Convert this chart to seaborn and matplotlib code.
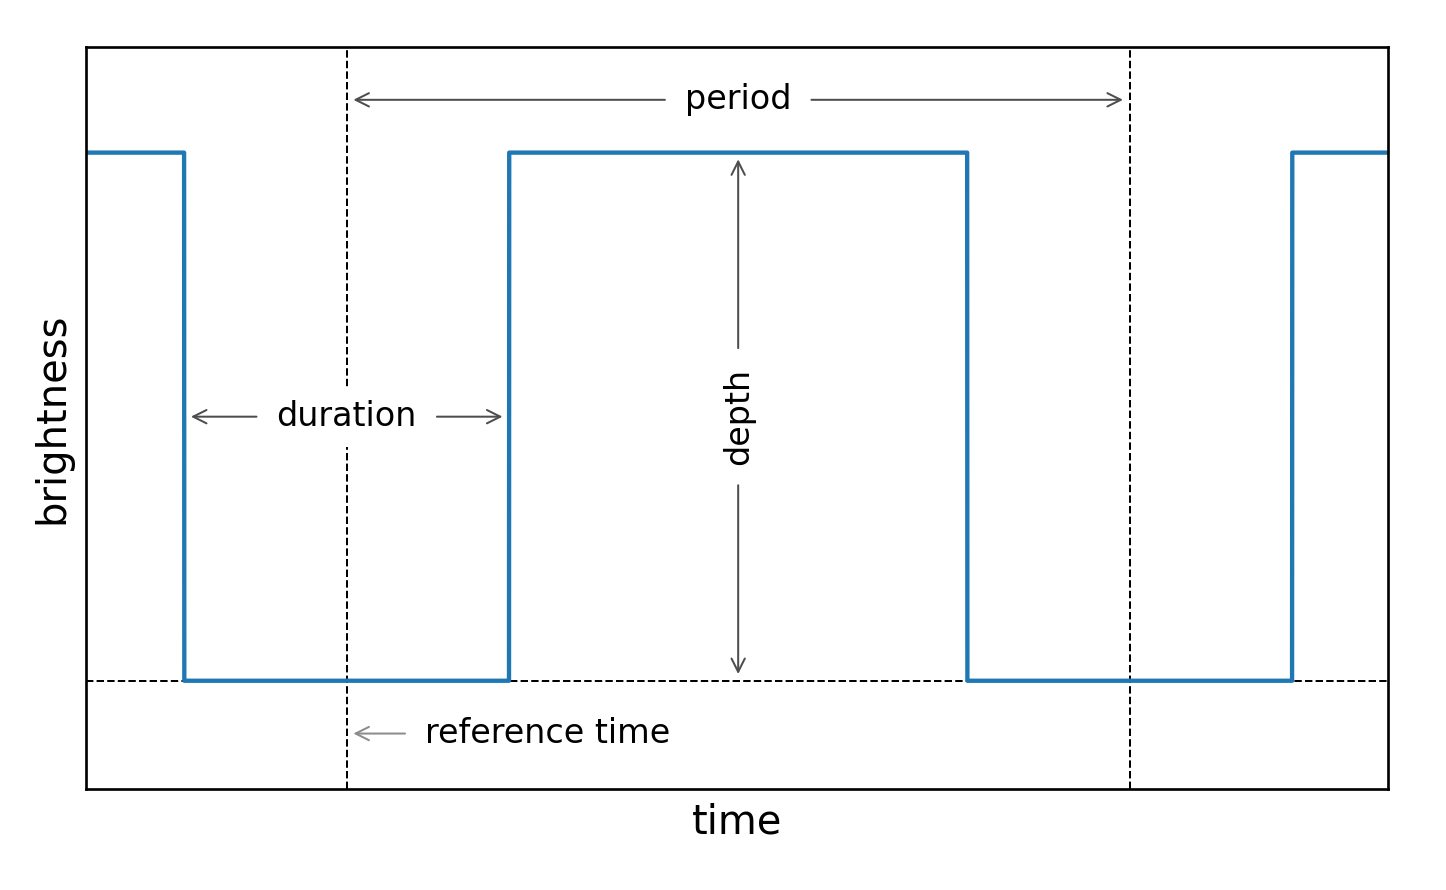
import numpy as np
import pandas as pd
import matplotlib
matplotlib.use("Agg")
import matplotlib.pyplot as plt
import seaborn as sns

# параметры транзита (в условных единицах)
period = 1.0
t0 = 0.0
duration = 0.415
depth = 1.0
xlim = (-0.333, 1.33)
ylim = (-0.205, 1.2)

# модель: прямоугольные провалы яркости
t = np.linspace(xlim[0], xlim[1], 6000)
phase = (t - t0 + 0.5 * period) % period - 0.5 * period
flux = np.where(np.abs(phase) < 0.5 * duration, 1.0 - depth, 1.0)
data = pd.DataFrame({"time": t, "brightness": flux})

fig = plt.figure(figsize=(1446 / 240, 890 / 240), dpi=240)
ax = fig.add_axes([86 / 1446, 1 - 789 / 890, (1388 - 86) / 1446, (789 - 47) / 890])

sns.lineplot(data=data, x="time", y="brightness", ax=ax, color="#1f77b4", lw=1.3)

ax.axhline(1.0 - depth, color="k", ls="--", lw=0.6, zorder=0)
ax.axvline(t0, color="k", ls="--", lw=0.6, zorder=0)
ax.axvline(t0 + period, color="k", ls="--", lw=0.6, zorder=0)

box = dict(boxstyle="square,pad=0.4", fc="white", ec="none")
arr = dict(arrowstyle="->", color="0.3", lw=0.6)

# период
for end in (t0, t0 + period):
    ax.annotate("period", xy=(end, 1.1), xytext=(t0 + 0.5 * period, 1.1),
                ha="center", va="center", fontsize=10, bbox=box, arrowprops=arr)

# длительность
for end in (t0 - 0.5 * duration, t0 + 0.5 * duration):
    ax.annotate("duration", xy=(end, 0.5), xytext=(t0, 0.5),
                ha="center", va="center", fontsize=10, bbox=box, arrowprops=arr)

# глубина
for end in (1.0 - depth, 1.0):
    ax.annotate("depth", xy=(t0 + 0.5 * period, end), xytext=(t0 + 0.5 * period, 0.5),
                ha="center", va="center", rotation=90, fontsize=10, bbox=box,
                arrowprops=arr)

# опорное время
ax.annotate("reference time", xy=(t0, -0.1), xytext=(t0 + 0.1, -0.1),
            ha="left", va="center", fontsize=10, bbox=box,
            arrowprops=dict(arrowstyle="->", color="0.55", lw=0.6))

ax.set_xlim(*xlim)
ax.set_ylim(*ylim)
ax.set_xticks([])
ax.set_yticks([])
ax.set_xlabel("time", fontsize=12)
ax.set_ylabel("brightness", fontsize=12)

fig.savefig("out.png", dpi=240)
